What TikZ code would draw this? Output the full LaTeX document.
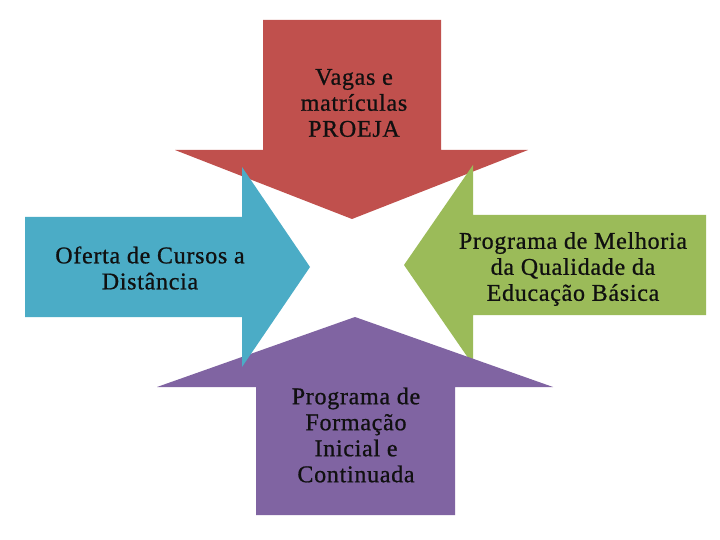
\documentclass[tikz,border=0pt]{standalone}
\usepackage{fontspec}
\setmainfont{Liberation Serif}[LetterSpace=3,FakeBold=0.8]
\definecolor{cred}{HTML}{C0504D}
\definecolor{cblue}{HTML}{4BACC6}
\definecolor{cgreen}{HTML}{9BBB59}
\definecolor{cpurple}{HTML}{8064A2}
\definecolor{ctext}{HTML}{101010}
\begin{document}
\begin{tikzpicture}[x=1pt,y=-1pt,
  lbl/.style={align=center,inner sep=0pt,text=ctext,font=\fontsize{24}{26}\selectfont}]
\useasboundingbox[fill=white] (0,0) rectangle (720,540);
% red (down)
\fill[cred] (263,20) -- (441,20) -- (441,150) -- (528,150) -- (352,219) -- (175,150) -- (263,150) -- cycle;
% green (left)
\fill[cgreen] (706,215) -- (473,215) -- (473,165) -- (404,265) -- (473,365) -- (473,315) -- (706,315) -- cycle;
% purple (up)
\fill[cpurple] (256,515) -- (455,515) -- (455,387) -- (553,387) -- (355,317) -- (157,387) -- (256,387) -- cycle;
% blue (right)
\fill[cblue] (25,217) -- (242,217) -- (242,167) -- (310,267) -- (242,367) -- (242,317) -- (25,317) -- cycle;
\node[lbl] (t) at (354,103) {Vagas e\\matrículas\\PROEJA};
\node[lbl] (l) at (150,268) {Oferta de Cursos a\\Distância};
\node[lbl] (r) at (573,269) {Programa de Melhoria\\da Qualidade da\\Educação Básica};
\node[lbl] (b) at (356,435) {Programa de\\Formação\\Inicial e\\Continuada};
\end{tikzpicture}
\end{document}
